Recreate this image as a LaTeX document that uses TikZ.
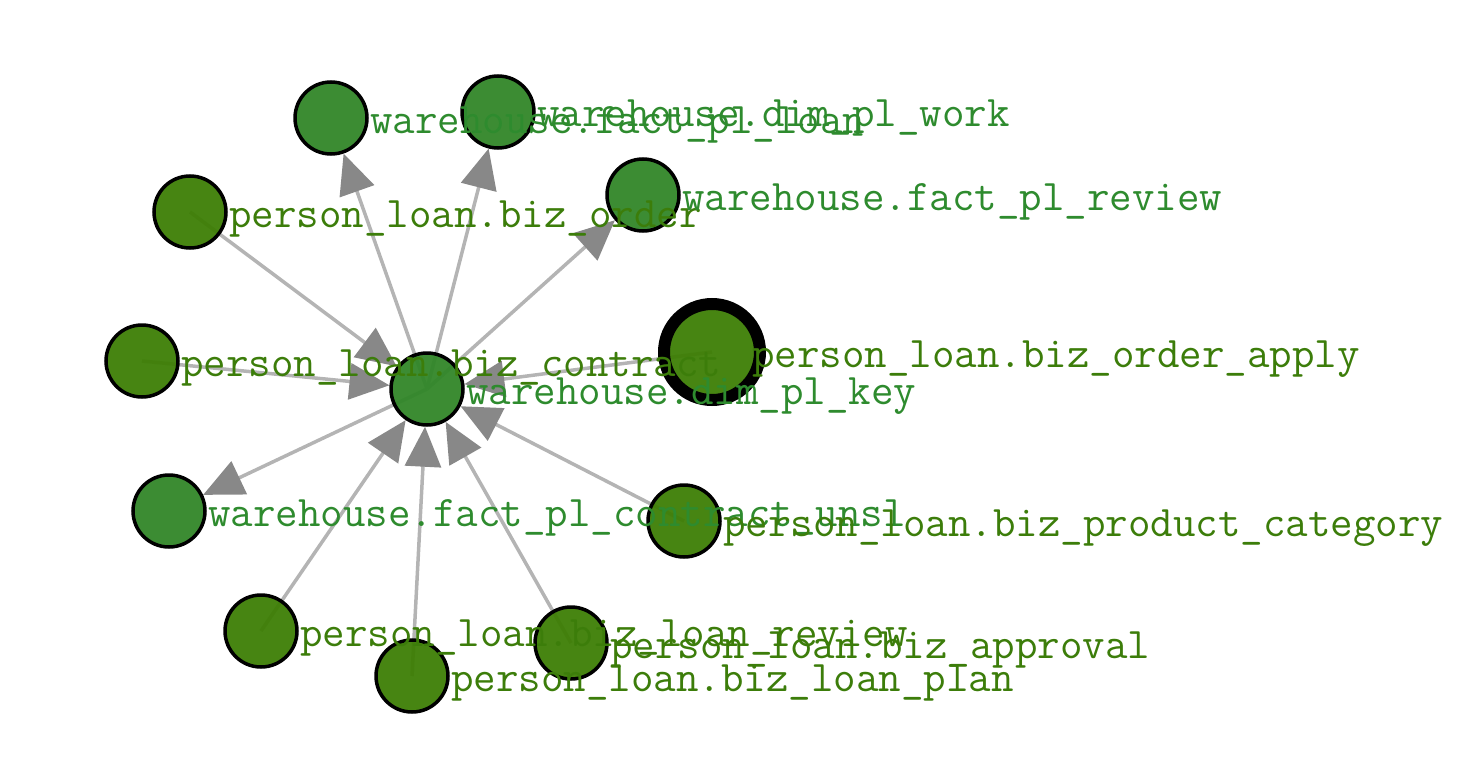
\documentclass[tikz,border=0pt]{standalone}
\usepackage{fontspec}
\usepackage{tikz}
\usetikzlibrary{arrows.meta,backgrounds}
\definecolor{whgreen}{HTML}{318628}
\definecolor{plgreen}{HTML}{3D7E05}
\definecolor{whtext}{HTML}{2E8B2E}
\definecolor{pltext}{HTML}{3C7D0A}
\definecolor{edgegray}{HTML}{B4B4B4}
\definecolor{tipgray}{HTML}{888888}

\begin{document}
\begin{tikzpicture}[x=1pt,y=-1pt,
    tbl/.style={circle,draw=black,line width=3.5pt,minimum size=72pt,inner sep=0pt,fill opacity=0.95},
    whnode/.style={tbl,fill=whgreen},
    plnode/.style={tbl,fill=plgreen},
    lbl/.style={anchor=base west,inner sep=0pt,font={\ttfamily\fontsize{43.7}{50}\selectfont}},
    whlbl/.style={lbl,text=whtext},
    pllbl/.style={lbl,text=pltext},
    link/.style={draw=edgegray,line width=3.5pt,-{Triangle[length=40pt,width=36pt,color=tipgray]}}]
  \useasboundingbox (0,0) rectangle (1461,765);

  \node[whnode] (loan)     at (331,118) {};
  \node[whnode] (work)     at (498,112) {};
  \node[plnode] (order)    at (190,212) {};
  \node[whnode] (review)   at (643,195) {};
  \node[plnode] (contract) at (142,361) {};
  \node[whnode] (key)      at (427,389) {};
  \node[plnode,line width=12pt,minimum size=96pt] (apply) at (712,352) {};
  \node[whnode] (unsl)     at (169,511) {};
  \node[plnode] (category) at (684,521) {};
  \node[plnode] (lreview)  at (261,631) {};
  \node[plnode] (approval) at (571,643) {};
  \node[plnode] (plan)     at (412,676) {};

  \node[whlbl] (loan-l)     at ([xshift=39pt,yshift=-15pt]loan.center)     {warehouse.fact\_pl\_loan};
  \node[whlbl] (work-l)     at ([xshift=39pt,yshift=-15pt]work.center)     {warehouse.dim\_pl\_work};
  \node[pllbl] (order-l)    at ([xshift=39pt,yshift=-15pt]order.center)    {person\_loan.biz\_order};
  \node[whlbl] (review-l)   at ([xshift=39pt,yshift=-15pt]review.center)   {warehouse.fact\_pl\_review};
  \node[pllbl] (contract-l) at ([xshift=39pt,yshift=-15pt]contract.center) {person\_loan.biz\_contract};
  \node[whlbl] (key-l)      at ([xshift=39pt,yshift=-15pt]key.center)      {warehouse.dim\_pl\_key};
  \node[pllbl] (apply-l)    at ([xshift=40pt,yshift=-15pt]apply.center)    {person\_loan.biz\_order\_apply};
  \node[whlbl] (unsl-l)     at ([xshift=39pt,yshift=-15pt]unsl.center)     {warehouse.fact\_pl\_contract\_unsl};
  \node[pllbl] (category-l) at ([xshift=39pt,yshift=-15pt]category.center) {person\_loan.biz\_product\_category};
  \node[pllbl] (lreview-l)  at ([xshift=39pt,yshift=-15pt]lreview.center)  {person\_loan.biz\_loan\_review};
  \node[pllbl] (approval-l) at ([xshift=39pt,yshift=-15pt]approval.center) {person\_loan.biz\_approval};
  \node[pllbl] (plan-l)     at ([xshift=39pt,yshift=-15pt]plan.center)     {person\_loan.biz\_loan\_plan};

  \begin{scope}[on background layer]
    \draw[link] (key.center) -- (loan);
    \draw[link] (key.center) -- (work);
    \draw[link] (key.center) -- (review);
    \draw[link] (key.center) -- (unsl);
    \draw[link] (order.center) -- (key);
    \draw[link] (contract.center) -- (key);
    \draw[link] (apply.center) -- (key);
    \draw[link] (category.center) -- (key);
    \draw[link] (lreview.center) -- (key);
    \draw[link] (approval.center) -- (key);
    \draw[link] (plan.center) -- (key);
  \end{scope}
\end{tikzpicture}
\end{document}
